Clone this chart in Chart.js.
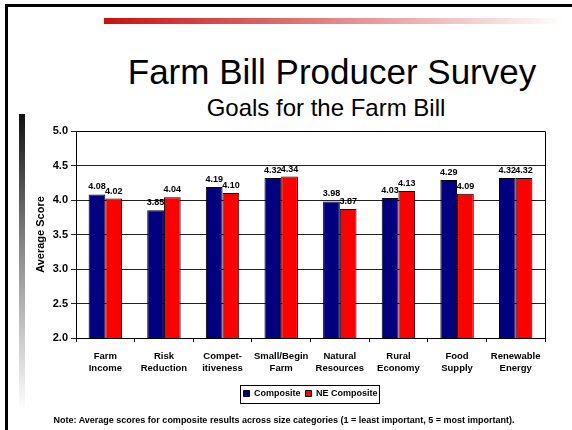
<!DOCTYPE html>
<html>
<head>
<meta charset="utf-8">
<script src="https://cdn.jsdelivr.net/npm/chart.js@4/dist/chart.umd.min.js"></script>
<style>
  html, body { margin: 0; padding: 0; background: #fff; }
  #slide { position: relative; width: 572px; height: 430px; overflow: hidden; font-family: Arial, 'Liberation Sans', sans-serif; }
  #frame-top { position: absolute; left: 5px; top: 4px; width: 567px; height: 3px; background: #000; }
  #frame-left { position: absolute; left: 5px; top: 4px; width: 3px; height: 426px; background: #000; }
  #red-rule { position: absolute; left: 104px; top: 18px; width: 460px; height: 6px; background: linear-gradient(to right, #cc0f0f, #e07a7a 45%, #fff); }
  #side-rule { position: absolute; left: 19px; top: 114px; width: 6px; height: 296px; background: linear-gradient(to bottom, #111, #888 45%, #fff); }
  #title { position: absolute; left: 0; width: 664px; top: 52px; text-align: center; font-size: 35px; line-height: 40px; color: #000; }
  #subtitle { position: absolute; left: 0; width: 652px; top: 95px; text-align: center; font-size: 24px; line-height: 26px; color: #000; }
  #note { position: absolute; left: 0; width: 568px; top: 415px; text-align: center; font-size: 9px; font-weight: bold; line-height: 11px; }
  #chart-wrap { position: absolute; left: 0; top: 0; width: 572px; height: 430px; }
</style>
</head>
<body>
<div id="slide">
  <div id="frame-top"></div>
  <div id="frame-left"></div>
  <div id="red-rule"></div>
  <div id="side-rule"></div>
  <div id="title">Farm Bill Producer Survey</div>
  <div id="subtitle">Goals for the Farm Bill</div>
  <div id="chart-wrap"><canvas id="chart" width="572" height="430"></canvas></div>
  <div id="note">Note: Average scores for composite results across size categories (1 = least important, 5 = most important).</div>
</div>
<script>
(function() {
  'use strict';
  // 項目名（2 行表示）
  const categories = [
    ['Farm', 'Income'],
    ['Risk', 'Reduction'],
    ['Compet-', 'itiveness'],
    ['Small/Begin', 'Farm'],
    ['Natural', 'Resources'],
    ['Rural', 'Economy'],
    ['Food', 'Supply'],
    ['Renewable', 'Energy']
  ];
  // 平均スコア
  const compositeScores = [4.08, 3.85, 4.19, 4.32, 3.98, 4.03, 4.29, 4.32];
  const neCompositeScores = [4.02, 4.04, 4.10, 4.34, 3.87, 4.13, 4.09, 4.32];
  // 系列名と色
  const seriesNames = ['Composite', 'NE Composite'];
  const seriesColors = ['#000080', '#ff0000'];
  // y 軸の範囲
  const yMin = 2.0;
  const yMax = 5.0;
  const yStep = 0.5;

  const fontFamily = "Arial, 'Liberation Sans', sans-serif";
  Chart.defaults.font.family = fontFamily;
  Chart.defaults.color = '#000';

  // プロット領域の上辺と右辺
  const plotFrame = {
    id: 'plotFrame',
    beforeDatasetsDraw(chart) {
      const a = chart.chartArea;
      const ctx = chart.ctx;
      ctx.save();
      ctx.strokeStyle = '#000';
      ctx.lineWidth = 1;
      ctx.beginPath();
      ctx.moveTo(Math.round(a.left) + 0.5, Math.round(a.top) + 0.5);
      ctx.lineTo(Math.round(a.right) + 0.5, Math.round(a.top) + 0.5);
      ctx.lineTo(Math.round(a.right) + 0.5, Math.round(a.bottom) + 0.5);
      ctx.stroke();
      ctx.restore();
    }
  };

  // 棒の上に値を表示
  const valueLabels = {
    id: 'valueLabels',
    afterDatasetsDraw(chart) {
      const ctx = chart.ctx;
      ctx.save();
      ctx.font = 'bold 9px ' + fontFamily;
      ctx.fillStyle = '#000';
      ctx.textAlign = 'center';
      ctx.textBaseline = 'bottom';
      chart.data.datasets.forEach(function(ds, i) {
        chart.getDatasetMeta(i).data.forEach(function(bar, j) {
          ctx.fillText(ds.data[j].toFixed(2), bar.x, bar.y - 3);
        });
      });
      ctx.restore();
    }
  };

  // 凡例の枠
  const legendBox = {
    id: 'legendBox',
    afterDraw(chart) {
      const boxes = chart.legend.legendHitBoxes;
      if (!boxes || !boxes.length) return;
      let l = Infinity, r = -Infinity, t = Infinity, b = -Infinity;
      boxes.forEach(function(h) {
        l = Math.min(l, h.left);
        r = Math.max(r, h.left + h.width);
        t = Math.min(t, h.top);
        b = Math.max(b, h.top + h.height);
      });
      const ctx = chart.ctx;
      ctx.save();
      ctx.strokeStyle = '#000';
      ctx.lineWidth = 1;
      ctx.strokeRect(Math.round(l - 3) + 0.5, Math.round(t - 4) + 0.5, Math.round(r - l + 5), Math.round(b - t + 9));
      ctx.restore();
    }
  };

  new Chart(document.getElementById('chart').getContext('2d'), {
    type: 'bar',
    data: {
      labels: categories,
      datasets: [{
        label: seriesNames[0],
        data: compositeScores,
        backgroundColor: seriesColors[0],
        borderColor: '#000',
        borderWidth: 1,
        categoryPercentage: 0.57,
        barPercentage: 1.0
      }, {
        label: seriesNames[1],
        data: neCompositeScores,
        backgroundColor: seriesColors[1],
        borderColor: '#000',
        borderWidth: 1,
        categoryPercentage: 0.57,
        barPercentage: 1.0
      }]
    },
    options: {
      responsive: false,
      animation: false,
      layout: {
        padding: { left: 26, right: 27, top: 131, bottom: 22 }
      },
      scales: {
        x: {
          grid: {
            drawOnChartArea: false,
            drawTicks: true,
            tickLength: 4,
            color: '#000'
          },
          border: { color: '#000', width: 1 },
          ticks: {
            font: { size: 9.5, weight: 'bold', lineHeight: 1.3 },
            padding: 8,
            maxRotation: 0,
            autoSkip: false
          },
          afterFit(scale) { scale.height = 46; }
        },
        y: {
          min: yMin,
          max: yMax,
          grid: {
            color: '#222',
            tickLength: 5
          },
          border: { color: '#000', width: 1 },
          ticks: {
            stepSize: yStep,
            font: { size: 11, weight: 'bold' },
            padding: 3,
            callback: function(v) { return v.toFixed(1); }
          },
          title: {
            display: true,
            text: 'Average Score',
            font: { size: 11, weight: 'bold' },
            padding: { top: 8, bottom: 0 }
          },
          afterFit(scale) { scale.width = 50; }
        }
      },
      plugins: {
        legend: {
          position: 'bottom',
          fullSize: false,
          labels: {
            boxWidth: 6,
            boxHeight: 6,
            padding: 5,
            font: { size: 9, weight: 'bold' },
            color: '#000'
          }
        },
        tooltip: { enabled: false }
      }
    },
    plugins: [plotFrame, valueLabels, legendBox]
  });
})();
</script>
</body>
</html>
